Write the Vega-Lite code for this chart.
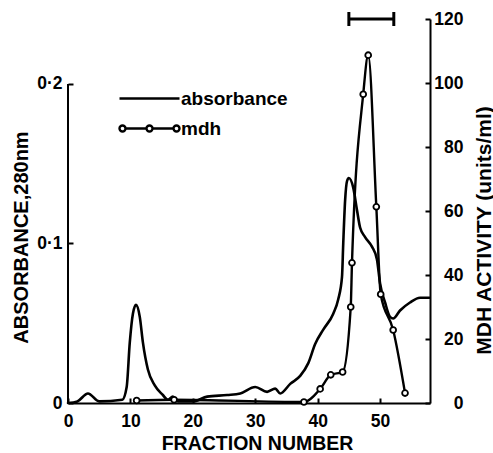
{
  "$schema": "https://vega.github.io/schema/vega-lite/v6.json",
  "width": 362,
  "height": 384,
  "autosize": {"type": "none"},
  "padding": {"left": 68, "top": 19, "right": 63, "bottom": 50},
  "background": "white",
  "datasets": {
    "absorbance": [
      {"series": "absorbance", "fraction": 0, "value": 0.0},
      {"series": "absorbance", "fraction": 1.5, "value": 0.001},
      {"series": "absorbance", "fraction": 3.2, "value": 0.006},
      {"series": "absorbance", "fraction": 5, "value": 0.001},
      {"series": "absorbance", "fraction": 8.7, "value": 0.002},
      {"series": "absorbance", "fraction": 9.4, "value": 0.010},
      {"series": "absorbance", "fraction": 9.9, "value": 0.038},
      {"series": "absorbance", "fraction": 10.4, "value": 0.056},
      {"series": "absorbance", "fraction": 10.9, "value": 0.0615},
      {"series": "absorbance", "fraction": 11.5, "value": 0.054},
      {"series": "absorbance", "fraction": 12.0, "value": 0.038},
      {"series": "absorbance", "fraction": 12.8, "value": 0.021},
      {"series": "absorbance", "fraction": 13.9, "value": 0.011},
      {"series": "absorbance", "fraction": 15.2, "value": 0.005},
      {"series": "absorbance", "fraction": 16.0, "value": 0.002},
      {"series": "absorbance", "fraction": 16.8, "value": 0.004},
      {"series": "absorbance", "fraction": 17.6, "value": 0.001},
      {"series": "absorbance", "fraction": 20, "value": 0.001},
      {"series": "absorbance", "fraction": 22.3, "value": 0.004},
      {"series": "absorbance", "fraction": 25.5, "value": 0.005},
      {"series": "absorbance", "fraction": 27.6, "value": 0.006},
      {"series": "absorbance", "fraction": 30, "value": 0.010},
      {"series": "absorbance", "fraction": 31.9, "value": 0.007},
      {"series": "absorbance", "fraction": 33.2, "value": 0.009},
      {"series": "absorbance", "fraction": 34, "value": 0.006},
      {"series": "absorbance", "fraction": 35.6, "value": 0.012},
      {"series": "absorbance", "fraction": 37.2, "value": 0.017},
      {"series": "absorbance", "fraction": 38.5, "value": 0.025},
      {"series": "absorbance", "fraction": 39.6, "value": 0.037},
      {"series": "absorbance", "fraction": 40.9, "value": 0.046},
      {"series": "absorbance", "fraction": 42.5, "value": 0.056},
      {"series": "absorbance", "fraction": 43.3, "value": 0.065},
      {"series": "absorbance", "fraction": 43.9, "value": 0.079},
      {"series": "absorbance", "fraction": 44.1, "value": 0.100},
      {"series": "absorbance", "fraction": 44.4, "value": 0.127},
      {"series": "absorbance", "fraction": 44.7, "value": 0.139},
      {"series": "absorbance", "fraction": 45.0, "value": 0.141},
      {"series": "absorbance", "fraction": 45.7, "value": 0.135},
      {"series": "absorbance", "fraction": 46.3, "value": 0.121},
      {"series": "absorbance", "fraction": 46.8, "value": 0.110},
      {"series": "absorbance", "fraction": 47.6, "value": 0.104},
      {"series": "absorbance", "fraction": 48.7, "value": 0.098},
      {"series": "absorbance", "fraction": 49.5, "value": 0.090},
      {"series": "absorbance", "fraction": 50.0, "value": 0.075},
      {"series": "absorbance", "fraction": 50.8, "value": 0.063},
      {"series": "absorbance", "fraction": 51.6, "value": 0.054},
      {"series": "absorbance", "fraction": 52.1, "value": 0.053},
      {"series": "absorbance", "fraction": 53.2, "value": 0.058},
      {"series": "absorbance", "fraction": 54.8, "value": 0.063},
      {"series": "absorbance", "fraction": 56.4, "value": 0.066},
      {"series": "absorbance", "fraction": 57.9, "value": 0.066}
    ],
    "mdh": [
      {"series": "mdh", "fraction": 11, "value": 0.8},
      {"series": "mdh", "fraction": 17, "value": 1.0},
      {"series": "mdh", "fraction": 37.8, "value": 0.3},
      {"series": "mdh", "fraction": 40.4, "value": 4.4},
      {"series": "mdh", "fraction": 42.1, "value": 8.8},
      {"series": "mdh", "fraction": 44.0, "value": 9.7},
      {"series": "mdh", "fraction": 45.3, "value": 30},
      {"series": "mdh", "fraction": 45.5, "value": 43.8},
      {"series": "mdh", "fraction": 47.3, "value": 96.5},
      {"series": "mdh", "fraction": 48.1, "value": 108.7},
      {"series": "mdh", "fraction": 49.4, "value": 61.3},
      {"series": "mdh", "fraction": 50.1, "value": 34},
      {"series": "mdh", "fraction": 52.1, "value": 22.8},
      {"series": "mdh", "fraction": 54.0, "value": 3.1}
    ],
    "bar": [
      {"from": 45, "to": 52.2, "level": 120}
    ]
  },
  "layer": [
    {
      "layer": [
        {
          "data": {"name": "absorbance"},
          "mark": {"type": "line", "interpolate": "monotone", "strokeWidth": 2.6, "strokeCap": "round", "strokeJoin": "round"},
          "encoding": {
            "x": {
              "field": "fraction", "type": "quantitative",
              "scale": {"domain": [0, 58], "nice": false},
              "axis": {
                "values": [0, 10, 20, 30, 40, 50],
                "title": "FRACTION NUMBER",
                "labelPadding": 14,
                "titleFontSize": 19.5,
                "titleX": 189, "titleY": 46,
                "titleBaseline": "alphabetic", "titleAlign": "center"
              }
            },
            "y": {
              "field": "value", "type": "quantitative",
              "scale": {"domain": [0, 0.2407], "nice": false},
              "axis": {
                "orient": "left",
                "values": [0, 0.1, 0.2],
                "domain": false,
                "labelExpr": "datum.value == 0 ? '0' : replace(format(datum.value, '.1f'), '.', '·')",
                "labelPadding": 11,
                "title": "ABSORBANCE,280nm",
                "titleAngle": 270,
                "titleX": -47, "titleY": 218,
                "titleAlign": "center", "titleBaseline": "middle"
              }
            },
            "color": {
              "field": "series", "type": "nominal",
              "scale": {"domain": ["absorbance", "mdh"], "range": ["black", "black"]},
              "legend": {
                "orient": "none", "legendX": 70, "legendY": 68,
                "title": null, "padding": 0,
                "symbolSize": 400, "symbolStrokeWidth": 2.4,
                "labelFont": "Liberation Sans", "labelFontSize": 19, "labelFontWeight": "bold",
                "labelColor": "black", "labelOffset": 20, "rowPadding": 8,
                "encode": {
                  "symbols": {
                    "update": {
                      "shape": {"signal": "datum.value === 'mdh' ? 'M-2.4,0H-0.3M0.3,0H2.4M-2.4,0A0.3,0.3 0 1,1 -3,0A0.3,0.3 0 1,1 -2.4,0ZM0.3,0A0.3,0.3 0 1,1 -0.3,0A0.3,0.3 0 1,1 0.3,0ZM3,0A0.3,0.3 0 1,1 2.4,0A0.3,0.3 0 1,1 3,0Z' : 'M-3,0H3'"},
                      "fill": {"value": "white"},
                      "stroke": {"value": "black"}
                    }
                  }
                }
              }
            }
          }
        },
        {
          "data": {"values": [{}]},
          "mark": {"type": "rule", "strokeWidth": 2, "color": "black"},
          "encoding": {
            "x": {"datum": 0, "type": "quantitative"},
            "y": {"datum": 0, "type": "quantitative"},
            "y2": {"datum": 0.2}
          }
        }
      ]
    },
    {
      "layer": [
        {
          "data": {"name": "mdh"},
          "mark": {"type": "line", "interpolate": "monotone", "strokeWidth": 2.4, "strokeJoin": "round"},
          "encoding": {
            "x": {"field": "fraction", "type": "quantitative"},
            "y": {
              "field": "value", "type": "quantitative",
              "scale": {"domain": [0, 120], "nice": false},
              "axis": {
                "orient": "right",
                "values": [0, 20, 40, 60, 80, 100, 120],
                "labelAlign": "right",
                "labelPadding": 38,
                "title": "MDH ACTIVITY (units/ml)",
                "titleFontSize": 21,
                "titleAngle": 270,
                "titleX": 54, "titleY": 211,
                "titleAlign": "center", "titleBaseline": "middle"
              }
            },
            "color": {
              "field": "series", "type": "nominal",
              "scale": {"domain": ["absorbance", "mdh"], "range": ["black", "black"]},
              "legend": {
                "orient": "none", "legendX": 70, "legendY": 68,
                "title": null, "padding": 0,
                "symbolSize": 400, "symbolStrokeWidth": 2.4,
                "labelFont": "Liberation Sans", "labelFontSize": 19, "labelFontWeight": "bold",
                "labelColor": "black", "labelOffset": 20, "rowPadding": 8,
                "encode": {
                  "symbols": {
                    "update": {
                      "shape": {"signal": "datum.value === 'mdh' ? 'M-2.4,0H-0.3M0.3,0H2.4M-2.4,0A0.3,0.3 0 1,1 -3,0A0.3,0.3 0 1,1 -2.4,0ZM0.3,0A0.3,0.3 0 1,1 -0.3,0A0.3,0.3 0 1,1 0.3,0ZM3,0A0.3,0.3 0 1,1 2.4,0A0.3,0.3 0 1,1 3,0Z' : 'M-3,0H3'"},
                      "fill": {"value": "white"},
                      "stroke": {"value": "black"}
                    }
                  }
                }
              }
            }
          }
        },
        {
          "data": {"name": "mdh"},
          "mark": {"type": "point", "filled": true, "fill": "white", "stroke": "black", "strokeWidth": 1.8, "size": 34, "opacity": 1},
          "encoding": {
            "x": {"field": "fraction", "type": "quantitative"},
            "y": {"field": "value", "type": "quantitative"}
          }
        },
        {
          "data": {"name": "bar"},
          "mark": {"type": "rule", "strokeWidth": 3, "color": "black"},
          "encoding": {
            "x": {"field": "from", "type": "quantitative"},
            "x2": {"field": "to"},
            "y": {"field": "level", "type": "quantitative"}
          }
        },
        {
          "data": {"name": "bar"},
          "mark": {"type": "tick", "orient": "vertical", "size": 14, "thickness": 3, "color": "black", "opacity": 1},
          "encoding": {
            "x": {"field": "from", "type": "quantitative"},
            "y": {"field": "level", "type": "quantitative"}
          }
        },
        {
          "data": {"name": "bar"},
          "mark": {"type": "tick", "orient": "vertical", "size": 14, "thickness": 3, "color": "black", "opacity": 1},
          "encoding": {
            "x": {"field": "to", "type": "quantitative"},
            "y": {"field": "level", "type": "quantitative"}
          }
        }
      ]
    }
  ],
  "resolve": {"scale": {"y": "independent"}},
  "config": {
    "view": {"stroke": null},
    "axis": {
      "grid": false,
      "domainColor": "black", "domainWidth": 2,
      "tickColor": "black", "tickWidth": 2, "tickSize": -5,
      "labelFont": "Liberation Sans", "labelFontWeight": "bold", "labelFontSize": 17.5, "labelColor": "black",
      "labelFlush": false, "labelOverlap": false,
      "titleFont": "Liberation Sans", "titleFontWeight": "bold", "titleFontSize": 20, "titleColor": "black"
    }
  }
}
